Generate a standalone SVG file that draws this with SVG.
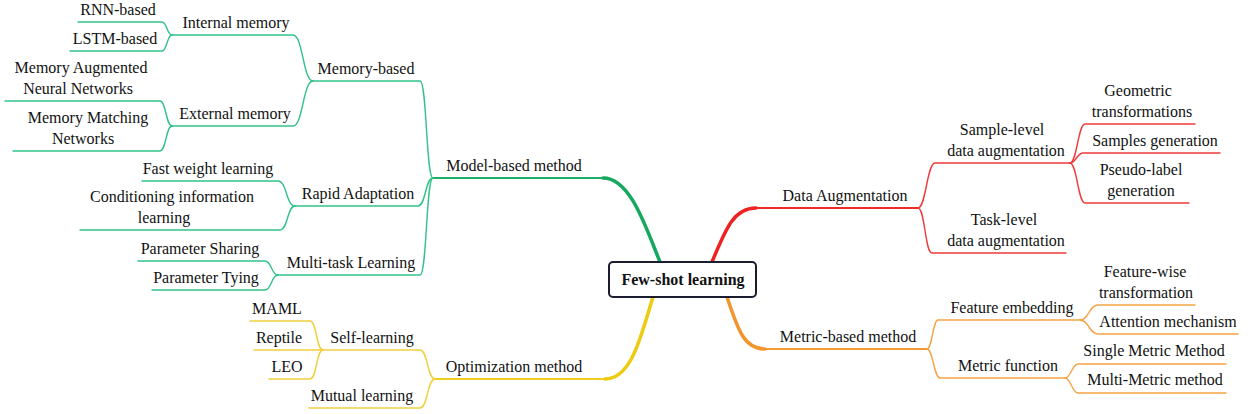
<svg xmlns="http://www.w3.org/2000/svg" width="1248" height="414" viewBox="0 0 1248 414">
<style>
text{font-family:"Liberation Serif","Times New Roman",serif;font-size:16px;fill:#111;text-anchor:middle}
.c{fill:none;stroke-width:1.4;stroke-linecap:round}
.g{stroke:#33c28a}.r{stroke:#f03a3a}.o{stroke:#f5a445}.y{stroke:#efd03e}
.m{fill:none;stroke-width:3.5;stroke-linecap:round}
.h{fill:none;stroke-width:2;stroke-linecap:round}
.root{font-weight:bold}
</style>
<rect width="1248" height="414" fill="#fff"/>
<g id="connectors">
<path class="h" stroke="#1fae68" d="M433,178 H604"/>
<path class="m" stroke="#16a85f" d="M603,178 C630,178 645,225 660,262"/>
<path class="h" stroke="#ee2a2a" d="M754,208 H918"/>
<path class="m" stroke="#ee2222" d="M712,262 C726,228 734,208 756,208"/>
<path class="h" stroke="#f39a35" d="M763,349 H927"/>
<path class="m" stroke="#f2952e" d="M727,297 C738,330 744,349 765,349"/>
<path class="h" stroke="#efcc20" d="M435,379 H607"/>
<path class="m" stroke="#eecb10" d="M653,297 C641,335 632,379 605,379"/>
<path class="c g" d="M433,178 C426,178 427,81 420,81 H313"/>
<path class="c g" d="M433,178 C425,178 426,206 418,206 H295"/>
<path class="c g" d="M433,178 C426,178 427,275 420,275 H278"/>
<path class="c g" d="M313,81 C303,81 303,35 293,35 H172"/>
<path class="c g" d="M313,81 C303,81 303,126 293,126 H172"/>
<path class="c g" d="M172,35 C167,35 167,22 162,22 H78"/>
<path class="c g" d="M172,35 C167,35 167,51 162,51 H70"/>
<path class="c g" d="M172,126 C166,126 166,101 160,101 H5"/>
<path class="c g" d="M172,126 C166,126 166,151 160,151 H13"/>
<path class="c g" d="M295,206 C286,206 287,181 278,181 H142"/>
<path class="c g" d="M295,206 C287,206 288,230 280,230 H80"/>
<path class="c g" d="M278,275 C271,275 272,261 265,261 H138"/>
<path class="c g" d="M278,275 C271,275 272,290 265,290 H152"/>
<path class="c y" d="M435,379 C427,379 428,350 420,350 H323"/>
<path class="c y" d="M435,379 C427,379 428,408 420,408 H309"/>
<path class="c y" d="M323,350 C316,350 317,321 310,321 H250"/>
<path class="c y" d="M323,350 H254"/>
<path class="c y" d="M323,350 C316,350 317,379 310,379 H269"/>
<path class="c r" d="M918,208 C926,208 927,163 935,163 H1070"/>
<path class="c r" d="M918,208 C925,208 925,253 932,253 H1066"/>
<path class="c r" d="M1070,163 C1077,163 1078,124 1085,124 H1195"/>
<path class="c r" d="M1070,163 C1076,163 1077,153 1083,153 H1220"/>
<path class="c r" d="M1070,163 C1077,163 1078,203 1085,203 H1189"/>
<path class="c o" d="M927,349 C932,349 933,320 938,320 H1080"/>
<path class="c o" d="M927,349 C933,349 934,378 940,378 H1066"/>
<path class="c o" d="M1080,320 C1089,320 1089,305 1098,305 H1195"/>
<path class="c o" d="M1080,320 C1089,320 1089,334 1098,334 H1238"/>
<path class="c o" d="M1065,378 C1071,378 1072,364 1078,364 H1226"/>
<path class="c o" d="M1065,378 C1071,378 1072,393 1078,393 H1226"/>
</g>
<g id="root">
<rect x="609" y="262" width="147" height="35" rx="4" fill="#fff" stroke="#1c1c30" stroke-width="2"/>
<text class="root" x="683" y="285">Few-shot learning</text>
</g>
<g id="model-based"><text x="514" y="171">Model-based method</text></g>
<g id="memory-based"><text x="366" y="74">Memory-based</text></g>
<g id="internal-memory"><text x="236" y="28">Internal memory</text></g>
<g id="rnn"><text x="118" y="15">RNN-based</text></g>
<g id="lstm"><text x="115" y="44">LSTM-based</text></g>
<g id="external-memory"><text x="235" y="119">External memory</text></g>
<g id="mann"><text x="81" y="73">Memory Augmented</text><text x="78" y="94">Neural Networks</text></g>
<g id="mmn"><text x="88" y="123">Memory Matching</text><text x="83" y="144">Networks</text></g>
<g id="rapid"><text x="358" y="199">Rapid Adaptation</text></g>
<g id="fast-weight"><text x="208" y="174">Fast weight learning</text></g>
<g id="conditioning"><text x="172" y="202">Conditioning information</text><text x="164" y="223">learning</text></g>
<g id="multitask"><text x="351" y="268">Multi-task Learning</text></g>
<g id="param-sharing"><text x="200" y="254">Parameter Sharing</text></g>
<g id="param-tying"><text x="206" y="283">Parameter Tying</text></g>
<g id="optimization"><text x="514" y="372">Optimization method</text></g>
<g id="self-learning"><text x="372" y="343">Self-learning</text></g>
<g id="maml"><text x="277" y="314">MAML</text></g>
<g id="reptile"><text x="279" y="343">Reptile</text></g>
<g id="leo"><text x="287" y="372">LEO</text></g>
<g id="mutual"><text x="362" y="401">Mutual learning</text></g>
<g id="data-aug"><text x="845" y="201">Data Augmentation</text></g>
<g id="sample-level"><text x="1002" y="135">Sample-level</text><text x="1006" y="156">data augmentation</text></g>
<g id="task-level"><text x="1004" y="225">Task-level</text><text x="1006" y="246">data augmentation</text></g>
<g id="geometric"><text x="1138" y="96">Geometric</text><text x="1142" y="117">transformations</text></g>
<g id="samples-gen"><text x="1155" y="146">Samples generation</text></g>
<g id="pseudo"><text x="1141" y="175">Pseudo-label</text><text x="1141" y="196">generation</text></g>
<g id="metric-based"><text x="848" y="342">Metric-based method</text></g>
<g id="feature-embedding"><text x="1012" y="313">Feature embedding</text></g>
<g id="metric-function"><text x="1008" y="371">Metric function</text></g>
<g id="feature-wise"><text x="1145" y="277">Feature-wise</text><text x="1146" y="298">transformation</text></g>
<g id="attention"><text x="1168" y="327">Attention mechanism</text></g>
<g id="single-metric"><text x="1154" y="356">Single Metric Method</text></g>
<g id="multi-metric"><text x="1155" y="385">Multi-Metric method</text></g>
</svg>
